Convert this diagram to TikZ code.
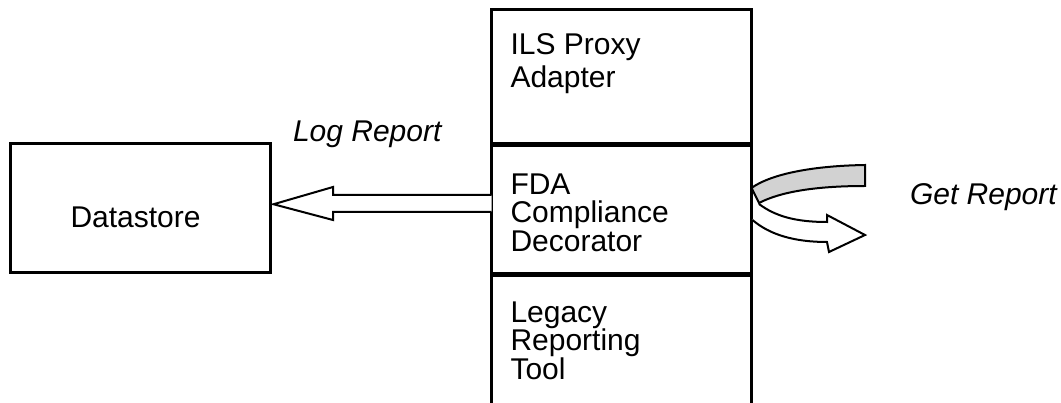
\documentclass[tikz,border=0pt]{standalone}
\usepackage{fontspec}
\setmainfont{Liberation Sans}
\usetikzlibrary{calc}
\begin{document}
\begin{tikzpicture}[x=1pt,y=-1pt,
  frame/.style={line width=3pt},
  divider/.style={line width=5pt},
  layerbox/.style={minimum width=260pt,inner sep=0pt,outer sep=0pt},
  txt/.style={font=\fontsize{30}{28.5}\selectfont,inner sep=0pt,outer sep=0pt},
  itxt/.style={font=\fontsize{30}{30}\selectfont\itshape,inner sep=0pt,outer sep=0pt},
  hollow/.style={line width=2pt,fill=white,line join=miter},
  band/.style={line width=2pt,fill=gray!35,line join=miter}]
\useasboundingbox (0,0) rectangle (1061,403);

% datastore box
\node[draw,frame,minimum width=260pt,minimum height=128.5pt,inner sep=0pt] (ds) at (140,208.25) {};
\node[txt,anchor=base west] (dstext) at (70.5,228) {Datastore};

% layered stack
\node[layerbox,minimum height=134.5pt] (proxy) at (621.5,77.25) {};
\node[layerbox,minimum height=130pt] (fda) at (621.5,209.5) {};
\node[layerbox,minimum height=130pt] (legacy) at (621.5,339.5) {};
\draw[frame] (legacy.south west) -- (proxy.north west) -- (proxy.north east) -- (legacy.south east);
\draw[divider] (proxy.south west) -- (proxy.south east);
\draw[divider] (fda.south west) -- (fda.south east);

\node[txt,font=\fontsize{30}{33}\selectfont,align=left,anchor=north west] (proxytext)
  at ($(proxy.north west)+(19,23.5)$) {ILS Proxy\\Adapter};
\node[txt,align=left,anchor=north west] (fdatext)
  at ($(fda.north west)+(19,29)$) {FDA\\Compliance\\Decorator};
\node[txt,align=left,anchor=north west] (legacytext)
  at ($(legacy.north west)+(19,27)$) {Legacy\\Reporting\\Tool};

% log report: hollow arrow into the datastore
\coordinate (logtip) at ($(ds.east)+(2,-4)$);
\draw[hollow] ($(fda.west)+(0,-14.5)$) -- (333,195) -- (333,187) -- (logtip)
  -- (333,220) -- (333,212) -- ($(fda.west)+(0,2.5)$);
\node[itxt,anchor=base west] (loglabel) at (293,142) {Log Report};

% get report: request comes in and turns back out
\coordinate (bandin) at ($(fda.east)+(0,-21.5)$);
\draw[band] (bandin) .. controls (768,176) and (805,166) .. (865,165)
  -- (865,186) .. controls (815,186) and (780,192) .. (759,203) -- cycle;
\coordinate (gettip) at (865,235);
\draw[hollow] (759,204) .. controls (775,216) and (795,222) .. (827,222)
  -- (827,215) -- (gettip) -- (829,252) -- (827,242)
  .. controls (795,242) and (770,235) .. ($(fda.east)+(1,10.5)$);
\node[itxt,anchor=base west] (getlabel) at (910,205) {Get Report};
\end{tikzpicture}
\end{document}
